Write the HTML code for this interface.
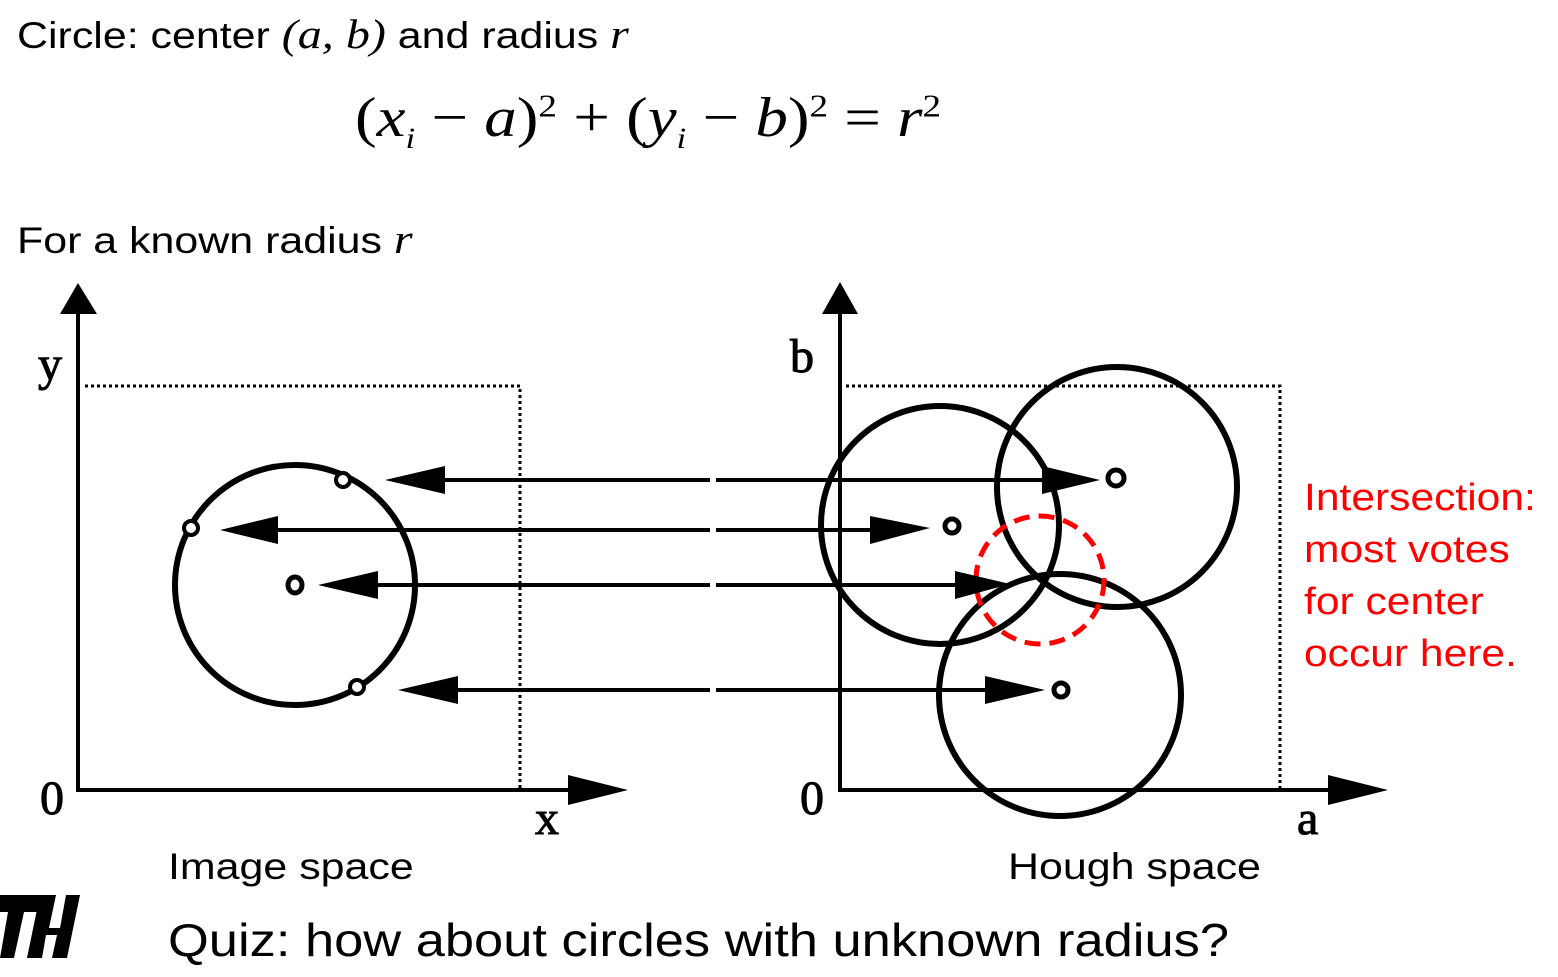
<!DOCTYPE html>
<html><head><style>
body{margin:0;width:1558px;height:977px;background:#fff;overflow:hidden;position:relative;font-family:"Liberation Sans",sans-serif}
.t{position:absolute;white-space:nowrap;color:#000;transform-origin:0 0}
.m{font-family:"Liberation Serif",serif;font-style:italic;font-size:1.12em}
</style></head><body>
<div class="t" style="left:17px;top:10px;font-size:37px;transform:scaleX(1.16)">Circle: center <span class="m">(a, b)</span> and radius <span class="m">r</span></div>
<div class="t" style="left:355px;top:86px;font-size:56px;font-family:'Liberation Serif',serif;transform:scaleX(1.16)">(<i>x<sub style="font-size:30px">i</sub></i> − <i>a</i>)<sup style="font-size:32px">2</sup> + (<i>y<sub style="font-size:30px">i</sub></i> − <i>b</i>)<sup style="font-size:32px">2</sup> = <i>r</i><sup style="font-size:32px">2</sup></div>
<div class="t" style="left:17px;top:215px;font-size:37px;transform:scaleX(1.16)">For a known radius <span class="m">r</span></div>
<svg width="1558" height="977" style="position:absolute;left:0;top:0">
<g stroke="#000" fill="none">
<line x1="78" y1="310" x2="78" y2="791" stroke-width="4"/>
<line x1="76" y1="790" x2="570" y2="790" stroke-width="4"/>
<polyline points="85,386 520,386 520,790" stroke-width="3" stroke-dasharray="3,3"/>
<circle cx="295" cy="585" r="120" stroke-width="6"/>
<circle cx="343" cy="480" r="7" stroke-width="4" fill="#fff"/>
<circle cx="191" cy="528" r="7" stroke-width="4" fill="#fff"/>
<circle cx="357" cy="687" r="7" stroke-width="4" fill="#fff"/>
<ellipse cx="295" cy="585" rx="7" ry="8" stroke-width="5"/>
<line x1="840" y1="310" x2="840" y2="791" stroke-width="4"/>
<line x1="838" y1="790" x2="1335" y2="790" stroke-width="4"/>
<polyline points="846,386 1280,386 1280,790" stroke-width="3" stroke-dasharray="3,3"/>
<circle cx="940" cy="525" r="119" stroke-width="6"/>
<circle cx="1117" cy="487" r="120" stroke-width="6"/>
<circle cx="1060" cy="695" r="121" stroke-width="6"/>
<circle cx="952" cy="526" r="7" stroke-width="5"/>
<circle cx="1116" cy="478" r="8" stroke-width="5"/>
<circle cx="1061" cy="690" r="7" stroke-width="5"/>
<g stroke-width="4">
<line x1="440" y1="480" x2="710" y2="480"/><line x1="716" y1="480" x2="1050" y2="480"/>
<line x1="275" y1="530" x2="710" y2="530"/><line x1="716" y1="530" x2="875" y2="530"/>
<line x1="375" y1="585" x2="710" y2="585"/><line x1="716" y1="585" x2="960" y2="585"/>
<line x1="455" y1="690" x2="710" y2="690"/><line x1="716" y1="690" x2="990" y2="690"/>
</g>
<circle cx="1040" cy="580" r="64" stroke="#f00" stroke-width="5" stroke-dasharray="16,9"/>
</g>
<g fill="#000">
<polygon points="78,283 60,314 97,314"/>
<polygon points="628,790 568,775 568,805"/>
<polygon points="840,282 822,314 858,314"/>
<polygon points="1388,790 1328,775 1328,805"/>
<polygon points="385,480 445,466 445,494"/>
<polygon points="220,530 278,516 278,544"/>
<polygon points="318,585 378,571 378,599"/>
<polygon points="398,690 458,676 458,704"/>
<polygon points="1100,480 1042,466 1042,494"/>
<polygon points="930,528 870,516 870,544"/>
<polygon points="1010,584 955,571 955,599"/>
<polygon points="1045,690 985,676 985,704"/>
<polygon points="0,895 42,895 39,912 24,912 14,958 0,958 8,912 0,912"/>
<polygon points="40,895 56,895 49,928 60,928 66,895 80,895 67,958 52,958 57,935 46,935 42,958 27,958"/>
</g>
<g font-family="Liberation Serif,serif" font-size="48" fill="#000" stroke="#000" stroke-width="1">
<text x="38" y="380">y</text><text x="40" y="814">0</text><text x="535" y="834">x</text>
<text x="790" y="372">b</text><text x="800" y="814">0</text><text x="1297" y="834">a</text>
</g>
</svg>
<div class="t" style="left:1304px;top:472px;font-size:38px;color:#f00;line-height:52px;transform:scaleX(1.12)">Intersection:<br>most votes<br>for center<br>occur here.</div>
<div class="t" style="left:168px;top:846px;font-size:37px;transform:scaleX(1.16)">Image space</div>
<div class="t" style="left:1008px;top:846px;font-size:37px;transform:scaleX(1.16)">Hough space</div>
<div class="t" style="left:168px;top:913px;font-size:46px;transform:scaleX(1.14)">Quiz: how about circles with unknown radius?</div>
</body></html>
